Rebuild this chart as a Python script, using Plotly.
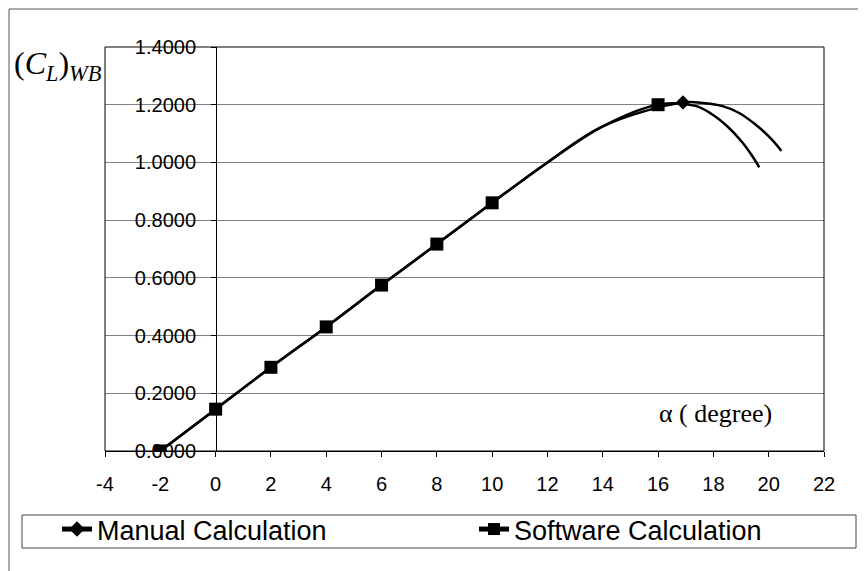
import plotly.graph_objects as go

# ---- data ----
alpha_software = [-2, 0, 2, 4, 6, 8, 10, 16]
cl_software = [0.0, 0.145, 0.29, 0.43, 0.575, 0.717, 0.86, 1.20]

alpha_manual = [16.9]
cl_manual = [1.208]

# traced smooth curves
alpha_software_curve = [-2, 0, 2, 4, 6, 8, 10, 12, 14, 16, 17.35, 17.95, 18.55, 19.05, 19.4, 19.66]
cl_software_curve = [0.0, 0.145, 0.29, 0.43, 0.575, 0.717, 0.86, 1.0, 1.125, 1.20, 1.196, 1.167, 1.121, 1.069, 1.023, 0.983]

alpha_manual_curve = [-2, 0, 2, 4, 6, 8, 10, 12, 14, 16.9, 17.7, 18.3, 18.9, 19.5, 20.1, 20.46]
cl_manual_curve = [0.0, 0.145, 0.29, 0.43, 0.575, 0.717, 0.86, 1.0, 1.125, 1.208, 1.205, 1.196, 1.173, 1.133, 1.081, 1.04]

x_ticks = [-4, -2, 0, 2, 4, 6, 8, 10, 12, 14, 16, 18, 20, 22]
y_ticks = [0.0, 0.2, 0.4, 0.6, 0.8, 1.0, 1.2, 1.4]

names = ["Manual Calculation", "Software Calculation"]

SANS = "Liberation Sans, Arial, sans-serif"
SERIF = "Liberation Serif, Times New Roman, serif"

# plot-area pixel frame (as seen in the page) used to place decorations
PL, PR, PT, PB = 105, 824, 47, 451


def px(x):
    return (x - PL) / (PR - PL)


def py(y):
    return (PB - y) / (PB - PT)


fig = go.Figure()

# smooth lines
fig.add_trace(go.Scatter(x=alpha_manual_curve, y=cl_manual_curve, mode="lines",
                         line=dict(color="black", width=2.5, shape="spline", smoothing=1.0),
                         showlegend=False, hoverinfo="skip"))
fig.add_trace(go.Scatter(x=alpha_software_curve, y=cl_software_curve, mode="lines",
                         line=dict(color="black", width=2.5, shape="spline", smoothing=1.0),
                         showlegend=False, hoverinfo="skip"))
# markers
fig.add_trace(go.Scatter(x=alpha_manual, y=cl_manual, mode="markers",
                         marker=dict(symbol="diamond", size=11, color="black"),
                         showlegend=False, name=names[0]))
fig.add_trace(go.Scatter(x=alpha_software, y=cl_software, mode="markers",
                         marker=dict(symbol="square", size=13, color="black"),
                         showlegend=False, name=names[1]))
# legend entries (one legend each so they can sit apart inside the common box)
fig.add_trace(go.Scatter(x=[None], y=[None], mode="lines+markers", name=names[0],
                         line=dict(color="black", width=2),
                         marker=dict(symbol="diamond", size=11, color="black"),
                         legend="legend"))
fig.add_trace(go.Scatter(x=[None], y=[None], mode="lines+markers", name=names[1],
                         line=dict(color="black", width=2),
                         marker=dict(symbol="square", size=12, color="black"),
                         legend="legend2"))

legend_common = dict(orientation="h", xanchor="left", yanchor="top",
                     borderwidth=0, bgcolor="rgba(0,0,0,0)",
                     font=dict(family=SANS, size=27, color="black"),
                     itemsizing="constant")

fig.update_layout(
    width=858, height=563,
    margin=dict(l=97, r=42, t=39, b=120, autoexpand=False),
    paper_bgcolor="white", plot_bgcolor="white",
    font=dict(family=SANS, size=20, color="black"),
    showlegend=True,
    legend=dict(x=px(57), y=py(505), **legend_common),
    legend2=dict(x=px(474), y=py(505), **legend_common),
    xaxis=dict(range=[-4, 22], tickvals=x_ticks, ticktext=[str(v) for v in x_ticks],
               showgrid=False, zeroline=False, showline=True, linecolor="black", linewidth=1,
               ticks="outside", ticklen=5, tickcolor="black",
               ticklabelstandoff=10, tickfont=dict(size=20, family=SANS)),
    yaxis=dict(range=[0, 1.4], tickvals=y_ticks, ticktext=[f"{v:.4f}" for v in y_ticks],
               anchor="free", position=px(216),
               showgrid=True, gridcolor="#808080", gridwidth=1,
               zeroline=False, showline=True, linecolor="black", linewidth=1,
               ticks="outside", ticklen=5, tickcolor="black",
               ticklabelstandoff=11, tickfont=dict(size=20, family=SANS)),
    shapes=[
        dict(type="rect", xref="paper", yref="paper", x0=0, y0=0, x1=1, y1=1,
             line=dict(color="black", width=1), layer="above"),
        dict(type="rect", xref="paper", yref="paper",
             x0=px(9), y0=py(9), x1=px(880), y1=py(590),
             line=dict(color="#555555", width=1), layer="below"),
        dict(type="rect", xref="paper", yref="paper",
             x0=px(22), y0=py(548), x1=px(856), y1=py(515),
             line=dict(color="#444444", width=1), layer="below"),
    ],
    annotations=[
        dict(text="(<i>C</i><sub><i>L</i></sub>)<sub><i>WB</i></sub>", xref="paper", yref="paper",
             x=px(12), y=py(65), xanchor="left", yanchor="middle",
             showarrow=False, font=dict(family=SERIF, size=32, color="black")),
        dict(text="α ( degree)", xref="paper", yref="paper",
             x=px(715), y=py(413), xanchor="center", yanchor="middle",
             showarrow=False, font=dict(family=SERIF, size=26, color="black")),
    ],
)

fig.write_html("out.html")
